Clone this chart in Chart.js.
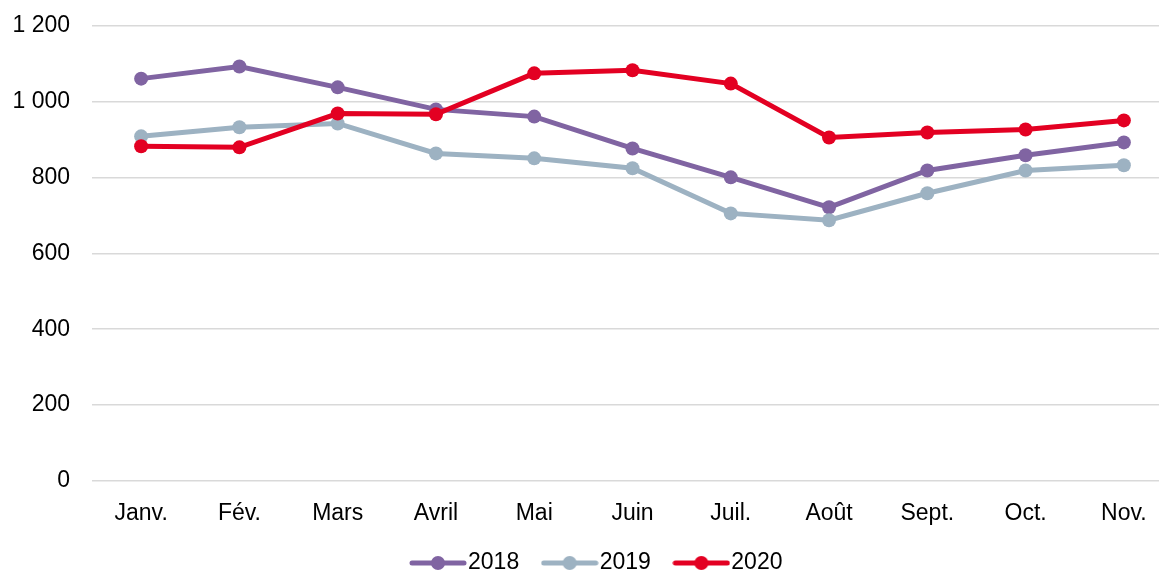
<!DOCTYPE html>
<html lang="fr">

<head>
    <meta charset="UTF-8">
    <title>2018 - 2020</title>
    <script src="https://cdn.jsdelivr.net/npm/chart.js"></script>
    <style>
        html, body { margin: 0; padding: 0; background: #fff; overflow: hidden; }
        #wrap { width: 1202px; height: 573px; }
    </style>
</head>

<body>
    <div id="wrap"><canvas id="monthChart"></canvas></div>

    <script>
        const months = ['Janv.', 'Fév.', 'Mars', 'Avril', 'Mai', 'Juin', 'Juil.', 'Août', 'Sept.', 'Oct.', 'Nov.'];
        const values2018 = [1060, 1092, 1037, 979, 960, 876, 800, 721, 818, 858, 892];
        const values2019 = [908, 932, 942, 863, 850, 824, 705, 687, 758, 818, 832];
        const values2020 = [882, 879, 968, 966, 1074, 1082, 1047, 905, 918, 926, 950];
        const yTicks = [0, 200, 400, 600, 800, 1000, 1200];

        const FONT = 'Liberation Sans, Arial, Helvetica, sans-serif';

        // Legend marker: a short line with a dot in the middle
        function legendMarker(color) {
            const c = document.createElement('canvas');
            c.width = 58;
            c.height = 16;
            const g = c.getContext('2d');
            g.strokeStyle = color;
            g.lineWidth = 5;
            g.lineCap = 'round';
            g.beginPath();
            g.moveTo(3, 8);
            g.lineTo(55, 8);
            g.stroke();
            g.fillStyle = color;
            g.beginPath();
            g.arc(29, 8, 7, 0, Math.PI * 2);
            g.fill();
            return c;
        }

        function series(label, data, color, order) {
            return {
                label: label,
                data: data,
                borderColor: color,
                backgroundColor: color,
                borderWidth: 5,
                pointRadius: 7,
                pointHoverRadius: 7,
                pointBorderWidth: 0,
                pointStyle: 'circle',
                tension: 0,
                order: order
            };
        }

        // thousands with a space: 1 200
        function frNumber(v) {
            return String(v).replace(/\B(?=(\d{3})+(?!\d))/g, '\u00a0');
        }

        // nudge the legend box so it sits centred under the page, just below the labels
        const legendShift = {
            id: 'legendShift',
            afterLayout(chart) {
                const lg = chart.legend;
                if (!lg) return;
                lg.left += 14.5;
                lg.right += 14.5;
                lg.top -= 11.5;
                lg.bottom -= 11.5;
            }
        };

        const ctx = document.getElementById('monthChart').getContext('2d');
        new Chart(ctx, {
            type: 'line',
            data: {
                labels: months,
                datasets: [
                    series('2018', values2018, '#8064A2', 3),
                    series('2019', values2019, '#9DB2C2', 2),
                    series('2020', values2020, '#E30022', 1)
                ]
            },
            plugins: [legendShift],
            options: {
                responsive: true,
                maintainAspectRatio: false,
                animation: false,
                layout: { padding: { top: 25.5, right: 29, left: 0, bottom: -23 } },
                plugins: {
                    tooltip: { enabled: false },
                    legend: {
                        position: 'bottom',
                        labels: {
                            usePointStyle: true,
                            pointStyleWidth: 37,
                            boxHeight: 16,
                            padding: 32,
                            color: '#000',
                            font: { family: FONT, size: 23 },
                            sort: (a, b) => a.datasetIndex - b.datasetIndex,
                            generateLabels: chart => {
                                const items = Chart.defaults.plugins.legend.labels.generateLabels(chart);
                                items.forEach(it => {
                                    const ds = chart.data.datasets[it.datasetIndex];
                                    it.pointStyle = legendMarker(ds.borderColor);
                                });
                                return items;
                            }
                        }
                    }
                },
                scales: {
                    x: {
                        offset: true,
                        afterFit: scale => { scale.height = 50; },
                        grid: { display: false, drawTicks: false },
                        border: { display: false },
                        ticks: {
                            color: '#000',
                            padding: 19,
                            maxRotation: 0,
                            autoSkip: false,
                            font: { family: FONT, size: 23 }
                        }
                    },
                    y: {
                        min: 0,
                        max: 1200,
                        afterBuildTicks: scale => {
                            scale.ticks = yTicks.map(v => ({ value: v }));
                        },
                        afterFit: scale => {
                            scale.width = 92;
                            scale.paddingTop = 0;
                        },
                        grid: { color: '#D9D9D9', lineWidth: 1.5, drawTicks: false },
                        border: { display: false },
                        ticks: {
                            color: '#000',
                            padding: 22,
                            font: { family: FONT, size: 23 },
                            callback: v => frNumber(v)
                        }
                    }
                }
            }
        });
    </script>
</body>

</html>
